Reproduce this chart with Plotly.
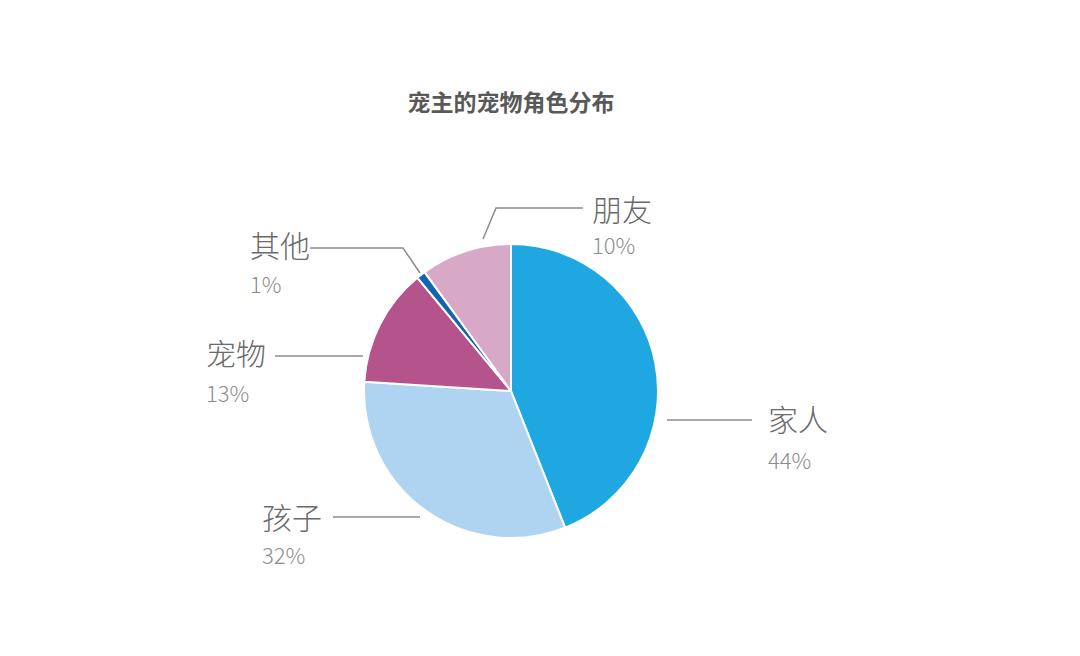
import plotly.graph_objects as go

# data
roles = ["家人", "孩子", "宠物", "其他", "朋友"]
shares = [44, 32, 13, 1, 10]
colors = ["#1EA7E1", "#AED4F2", "#B5538C", "#1565AE", "#D8A9C6"]
title = "宠主的宠物角色分布"

W, H = 1080, 656
OFF = 8  # page margin of the html body
FONT = "Noto Sans CJK SC"

# pie placement in pixels
cx, cy, r = 511, 391, 147

# label layout (pixels): text left x, name y, percent y, leader line points
label_pos = {
    "家人": (768, 420, 460, [(667, 420), (752, 420)]),
    "孩子": (262, 518, 555, [(333, 517), (420, 517)]),
    "宠物": (206, 354, 393, [(275, 356), (363, 356)]),
    "其他": (250, 246, 284, [(310, 248), (403, 248), (420, 273)]),
    "朋友": (592, 210, 245, [(483, 239), (496, 208), (583, 208)]),
}


def px(x):
    return (x - OFF) / W


def py(y):
    return 1 - (y - OFF) / H


fig = go.Figure()
fig.add_trace(go.Pie(
    labels=roles,
    values=shares,
    sort=False,
    direction="clockwise",
    rotation=0,
    marker=dict(colors=colors, line=dict(color="white", width=2)),
    textinfo="none",
    showlegend=False,
    domain=dict(x=[px(cx - r), px(cx + r)], y=[py(cy + r), py(cy - r)]),
))

for role, share in zip(roles, shares):
    lx, ny, pcy, pts = label_pos[role]
    fig.add_annotation(x=px(lx - 2), y=py(ny - 2), xref="paper", yref="paper",
                       text=role, showarrow=False, xanchor="left", yanchor="middle",
                       font=dict(family=FONT, size=30, color="#6A6A6A", weight=300))
    fig.add_annotation(x=px(lx - 2), y=py(pcy - 1), xref="paper", yref="paper",
                       text=f"{share}%", showarrow=False, xanchor="left", yanchor="middle",
                       font=dict(family=FONT, size=22, color="#8C8C8C", weight=300))
    path = "M " + " L ".join(f"{px(a)},{py(b)}" for a, b in pts)
    fig.add_shape(type="path", path=path, xref="paper", yref="paper",
                  line=dict(color="#8C8C8C", width=1.5))

fig.update_layout(
    width=W, height=H,
    margin=dict(l=0, r=0, t=0, b=0),
    paper_bgcolor="white",
    plot_bgcolor="white",
    title=dict(text=f"<b>{title}</b>", x=px(511), xanchor="center",
               y=py(103), yanchor="middle",
               font=dict(family=FONT, size=23, color="#595959")),
)

fig.write_html("out.html")
